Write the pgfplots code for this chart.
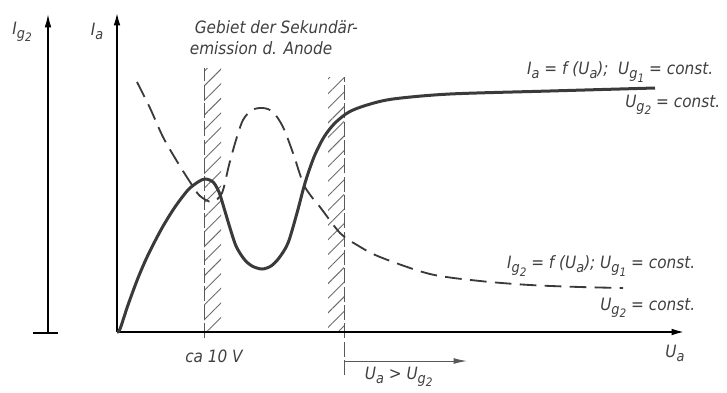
\documentclass[border=0pt]{standalone}
\usepackage{fontspec}
\setmainfont{DejaVu Sans Condensed}
\usepackage{pgfplots}
\pgfplotsset{compat=1.18}
\usetikzlibrary{patterns.meta,arrows.meta}

\definecolor{ink}{HTML}{3A3A3A}
\definecolor{txt}{HTML}{404040}
% lowered indices in the label font
\newcommand{\sub}[1]{\raisebox{-0.45ex}{\fontsize{8.6}{10}\selectfont #1}}
\newcommand{\subb}[1]{\raisebox{-0.4ex}{\fontsize{7}{8}\selectfont #1}}
\newcommand{\lbl}{\fontsize{10.2}{12}\selectfont\itshape\color{txt}}

% anode current I_a over anode voltage U_a
\pgfplotstableread{
x y
0 0
3 3
11 27
21 54
31 77
45 104
58 125
71 142
81 150
88 153
96 150
102 140
107 124
113 104
119 86
127 73
135 66
145 63
154 66
162 74
171 89
180 119
188 149
197 175
207 195
218 209
232 220
250 227
276 233
333 238
433 241
538 244
}\Iacurve

% screen-grid current I_g2 over anode voltage U_a
\pgfplotstableread{
x y
20 250
33 224
46 195
61 169
75 147
83 136
95 130
105 139
112 167
119 192
126 212
135 222
146 224
156 220
166 205
176 179
186 149
194 136
203 125
223 99
240 87
263 75
313 58
363 51
413 47
463 45
506 44
}\Igcurve

\begin{document}
\begin{tikzpicture}
\begin{axis}[
  scale only axis,
  width=436.2pt, height=235.2pt,
  xmin=-117, xmax=610, ymin=-60, ymax=332,
  hide axis, clip=false,
]
\path (axis cs:-117,-60) rectangle (axis cs:610,332);

% regions of secondary emission from the anode
\fill[pattern={Lines[angle=45,distance=6.2pt,line width=0.55pt]},pattern color=gray!85!black]
  (axis cs:87,0) rectangle (axis cs:104,264);
\fill[pattern={Lines[angle=45,distance=6.2pt,line width=0.55pt]},pattern color=gray!85!black]
  (axis cs:211,0) rectangle (axis cs:227,255);
\draw[gray!70!black, line width=0.6pt, dash pattern=on 9pt off 2pt]
  (axis cs:87,-6) -- (axis cs:87,264);
\draw[gray!70!black, line width=0.6pt, dash pattern=on 9pt off 2pt]
  (axis cs:227,-43) -- (axis cs:227,255);

% axes
\draw[black, line width=1.3pt, -{Latex[length=8pt,width=4pt]}]
  (axis cs:0,0) -- (axis cs:0,320);
\draw[black, line width=1.3pt, -{Latex[length=8pt,width=4pt]}]
  (axis cs:0,0) -- (axis cs:568,0);
\draw[black, line width=0.9pt, -{Latex[length=8pt,width=4pt]}]
  (axis cs:-69,-1) -- (axis cs:-69,318);
\draw[black, line width=1.3pt] (axis cs:-84,-1) -- (axis cs:-59,-1);
\draw[gray!70!black, line width=0.6pt, -{Latex[length=8pt,width=3.5pt]}]
  (axis cs:227,-29) -- (axis cs:350,-29);

% characteristics
\addplot[ink, line width=1.8pt, smooth, tension=0.5] table[x=x,y=y] {\Iacurve};
\addplot[ink, line width=1.1pt, smooth, tension=0.5, dash pattern=on 10pt off 5pt] table[x=x,y=y] {\Igcurve};

% labels
\node[font=\lbl] at (axis cs:-95,300) {I\sub{g\subb{2}}};
\node[font=\lbl] at (axis cs:-20,301) {I\sub{a}};
\node[font=\lbl, anchor=west] at (axis cs:72,305) {Gebiet der Sekundär-};
\node[font=\lbl, anchor=west] at (axis cs:67,284) {emission d. Anode};
\node[font=\lbl, anchor=east] at (axis cs:602,260) {I\sub{a} = f (U\sub{a}); \ U\sub{g\subb{1}} = const.};
\node[font=\lbl, anchor=east] at (axis cs:609,227) {U\sub{g\subb{2}} = const.};
\node[font=\lbl, anchor=east] at (axis cs:584,66) {I\sub{g\subb{2}} = f (U\sub{a}); U\sub{g\subb{1}} = const.};
\node[font=\lbl, anchor=east] at (axis cs:584,24) {U\sub{g\subb{2}} = const.};
\node[font=\lbl] at (axis cs:558,-21) {U\sub{a}};
\node[font=\lbl] at (axis cs:97,-24) {ca 10 V};
\node[font=\lbl, anchor=west] at (axis cs:242,-45) {U\sub{a} > U\sub{g\subb{2}}};
\end{axis}
\end{tikzpicture}
\end{document}
